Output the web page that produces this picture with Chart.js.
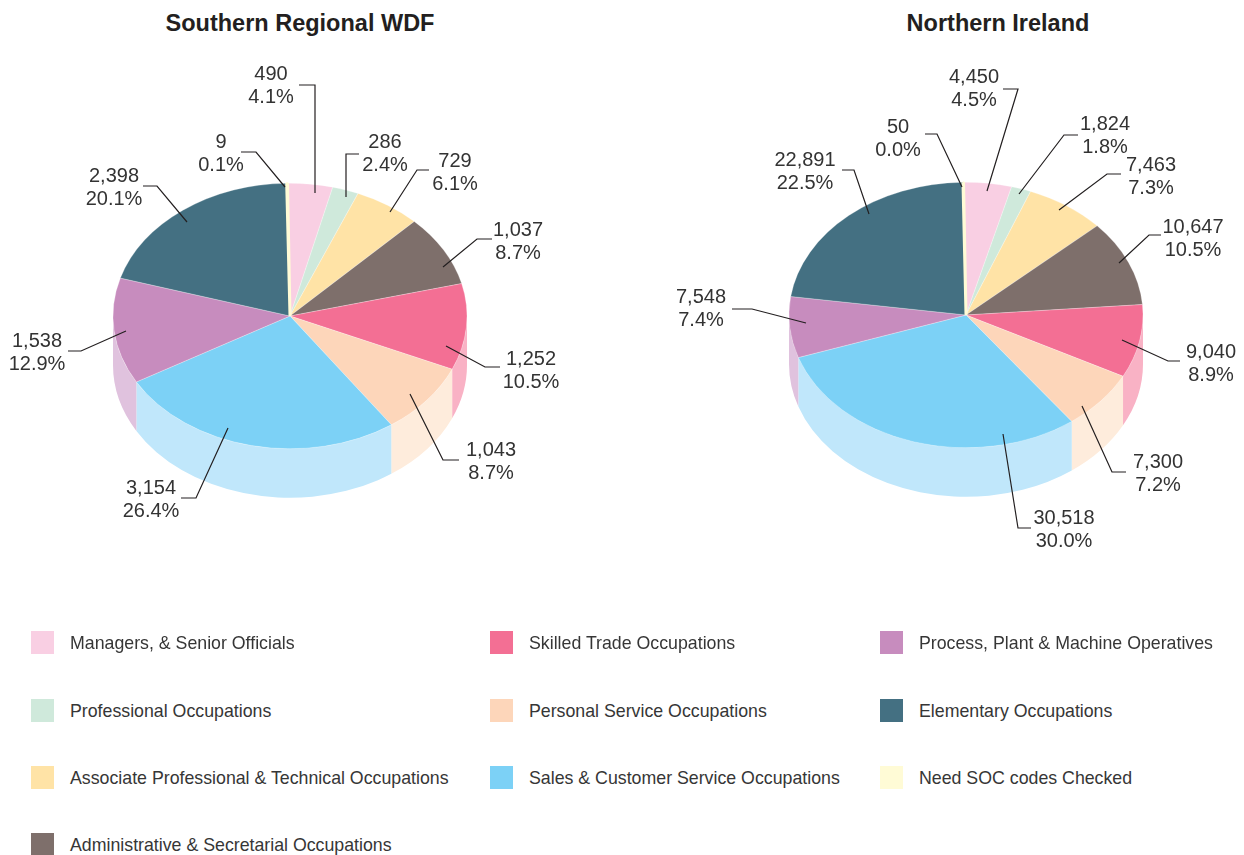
<!DOCTYPE html>
<html>
<head>
<meta charset="utf-8">
<title>Occupations</title>
<script src="https://cdn.jsdelivr.net/npm/chart.js@4/dist/chart.umd.js"></script>
<style>
  html, body { margin: 0; padding: 0; background: #fff; }
  body { position: relative; width: 1244px; height: 855px; overflow: hidden; font-family: "Liberation Sans", sans-serif; }
  canvas { position: absolute; left: 0; top: 0; }
  .chart-title { position: absolute; top: 10px; font-size: 23.5px; line-height: 26px; font-weight: bold; color: #231f20; transform: translateX(-50%); white-space: nowrap; }
  .legend-item { position: absolute; height: 23px; white-space: nowrap; }
  .legend-swatch { position: absolute; left: 0; top: 0; width: 23px; height: 23px; }
  .legend-text { position: absolute; left: 39px; top: 0; font-size: 17.75px; line-height: 24px; color: #363636; }
</style>
</head>
<body>
<div class="chart-title" style="left:300px">Southern Regional WDF</div>
<div class="chart-title" style="left:998px">Northern Ireland</div>
<canvas id="southernChart" width="1244" height="632"></canvas>
<canvas id="northernChart" width="1244" height="630"></canvas>
<div id="legend"></div>
<script>
// categories and colours
const categories = [
  'Managers, & Senior Officials',
  'Professional Occupations',
  'Associate Professional & Technical Occupations',
  'Administrative & Secretarial Occupations',
  'Skilled Trade Occupations',
  'Personal Service Occupations',
  'Sales & Customer Service Occupations',
  'Process, Plant & Machine Operatives',
  'Elementary Occupations',
  'Need SOC codes Checked'
];
const topColors = ['#f9cfe3', '#cfe9db', '#ffe3a6', '#7e6f6b', '#f36f94', '#fdd6ba', '#7cd1f6', '#c78cbe', '#447082', '#fffbd6'];
const sideColors = ['#fce7f1', '#e7f4ed', '#fff1d2', '#bfb7b5', '#f9b2c5', '#feecdc', '#c0e7fb', '#e0c2de', '#a2b8c1', '#fffdeb'];

// values
const southernValues = [490, 286, 729, 1037, 1252, 1043, 3154, 1538, 2398, 9];
const southernPercents = ['4.1%', '2.4%', '6.1%', '8.7%', '10.5%', '8.7%', '26.4%', '12.9%', '20.1%', '0.1%'];
const northernValues = [4450, 1824, 7463, 10647, 9040, 7300, 30518, 7548, 22891, 50];
const northernPercents = ['4.5%', '1.8%', '7.3%', '10.5%', '8.9%', '7.2%', '30.0%', '7.4%', '22.5%', '0.0%'];

// label placement: text centre x, first line y, leader line points
const southernLabels = [
  [271, 74, [[299, 85], [315, 85], [315, 193]]],
  [385, 142, [[359, 154], [346, 154], [346, 197]]],
  [455, 161, [[429, 170], [417, 170], [390, 212]]],
  [518, 230, [[492, 239], [477, 239], [443, 267]]],
  [531, 359, [[500, 367], [485, 367], [446, 346]]],
  [491, 450, [[459, 460], [443, 460], [410, 394]]],
  [151, 488, [[181, 498], [196, 498], [228, 428]]],
  [37, 341, [[68, 351], [81, 351], [126, 331]]],
  [114, 176, [[143, 186], [157, 186], [187, 222]]],
  [221, 142, [[241, 152], [256, 152], [285, 187]]]
];
const northernLabels = [
  [974, 77, [[1003, 89], [1018, 89], [987, 191]]],
  [1105, 124, [[1078, 135], [1064, 135], [1019, 194]]],
  [1151, 165, [[1121, 174], [1107, 174], [1059, 210]]],
  [1193, 227, [[1161, 235], [1149, 235], [1119, 263]]],
  [1211, 352, [[1180, 361], [1168, 361], [1122, 340]]],
  [1158, 462, [[1126, 472], [1112, 472], [1082, 406]]],
  [1064, 518, [[1031, 528], [1018, 528], [1003, 434]]],
  [701, 297, [[732, 309], [752, 309], [806, 323]]],
  [805, 160, [[842, 170], [854, 170], [869, 214]]],
  [898, 127, [[925, 134], [937, 134], [962, 187]]]
];

const legendColumns = [31, 490, 880];
const legendRows = [631, 699, 766, 833];
const legendOrder = [[0, 1, 2, 3], [4, 5, 6], [7, 8, 9]];

const squash = 0.75;
const pieDepth = 49;

// draws the side wall under the pie, then squashes the pie into an ellipse
const tiltPlugin = {
  id: 'tilt',
  beforeDatasetsDraw(chart) {
    const ctx = chart.ctx;
    const arcs = chart.getDatasetMeta(0).data;
    arcs.forEach((arc, i) => {
      const start = Math.max(arc.startAngle, 0);
      const end = Math.min(arc.endAngle, Math.PI);
      if (end <= start) return;
      const r = arc.outerRadius;
      ctx.beginPath();
      ctx.ellipse(arc.x, arc.y, r, r * squash, 0, start, end);
      ctx.ellipse(arc.x, arc.y + pieDepth, r, r * squash, 0, end, start, true);
      ctx.closePath();
      ctx.fillStyle = sideColors[i];
      ctx.fill();
    });
    const cx = arcs[0].x;
    const cy = arcs[0].y;
    ctx.save();
    ctx.translate(cx, cy);
    ctx.scale(1, squash);
    ctx.translate(-cx, -cy);
  },
  afterDatasetsDraw(chart) {
    chart.ctx.restore();
  }
};

// value and percent labels with their leader lines
const labelPlugin = {
  id: 'pieLabels',
  afterDraw(chart) {
    const ctx = chart.ctx;
    const opts = chart.options.plugins.pieLabels;
    ctx.save();
    ctx.font = '20px "Liberation Sans"';
    ctx.textAlign = 'center';
    ctx.textBaseline = 'middle';
    ctx.fillStyle = '#333333';
    ctx.strokeStyle = '#231f20';
    ctx.lineWidth = 1.2;
    opts.layout.forEach((item, i) => {
      const [x, y, points] = item;
      ctx.fillText(opts.values[i].toLocaleString('en-GB'), x, y);
      ctx.fillText(opts.percents[i], x, y + 23);
      ctx.beginPath();
      points.forEach((p, j) => {
        if (j === 0) ctx.moveTo(p[0], p[1]);
        else ctx.lineTo(p[0], p[1]);
      });
      ctx.stroke();
    });
    ctx.restore();
  }
};

function makePie(id, values, percents, layout, padding) {
  const borderColors = topColors.map(() => 'rgba(255, 255, 255, 0.5)');
  const borderWidths = topColors.map(() => 0.6);
  // the smallest slice is wider in the picture than its value gives
  borderColors[9] = topColors[9];
  borderWidths[9] = 3;
  return new Chart(document.getElementById(id).getContext('2d'), {
    type: 'pie',
    data: {
      labels: categories,
      datasets: [{
        data: values,
        backgroundColor: topColors,
        borderColor: borderColors,
        borderWidth: borderWidths
      }]
    },
    options: {
      responsive: false,
      animation: false,
      radius: 177,
      rotation: -0.8,
      layout: { padding: padding },
      plugins: {
        legend: { display: false },
        tooltip: { enabled: false },
        pieLabels: { values: values, percents: percents, layout: layout }
      }
    },
    plugins: [tiltPlugin, labelPlugin]
  });
}

makePie('southernChart', southernValues, southernPercents, southernLabels, { right: 664 });
makePie('northernChart', northernValues, northernPercents, northernLabels, { left: 688 });

// legend
const legend = document.getElementById('legend');
legendOrder.forEach((column, c) => {
  column.forEach((catIndex, r) => {
    const item = document.createElement('div');
    item.className = 'legend-item';
    item.style.left = legendColumns[c] + 'px';
    item.style.top = legendRows[r] + 'px';
    const swatch = document.createElement('div');
    swatch.className = 'legend-swatch';
    swatch.style.background = topColors[catIndex];
    const text = document.createElement('div');
    text.className = 'legend-text';
    text.textContent = categories[catIndex];
    item.appendChild(swatch);
    item.appendChild(text);
    legend.appendChild(item);
  });
});
</script>
</body>
</html>
